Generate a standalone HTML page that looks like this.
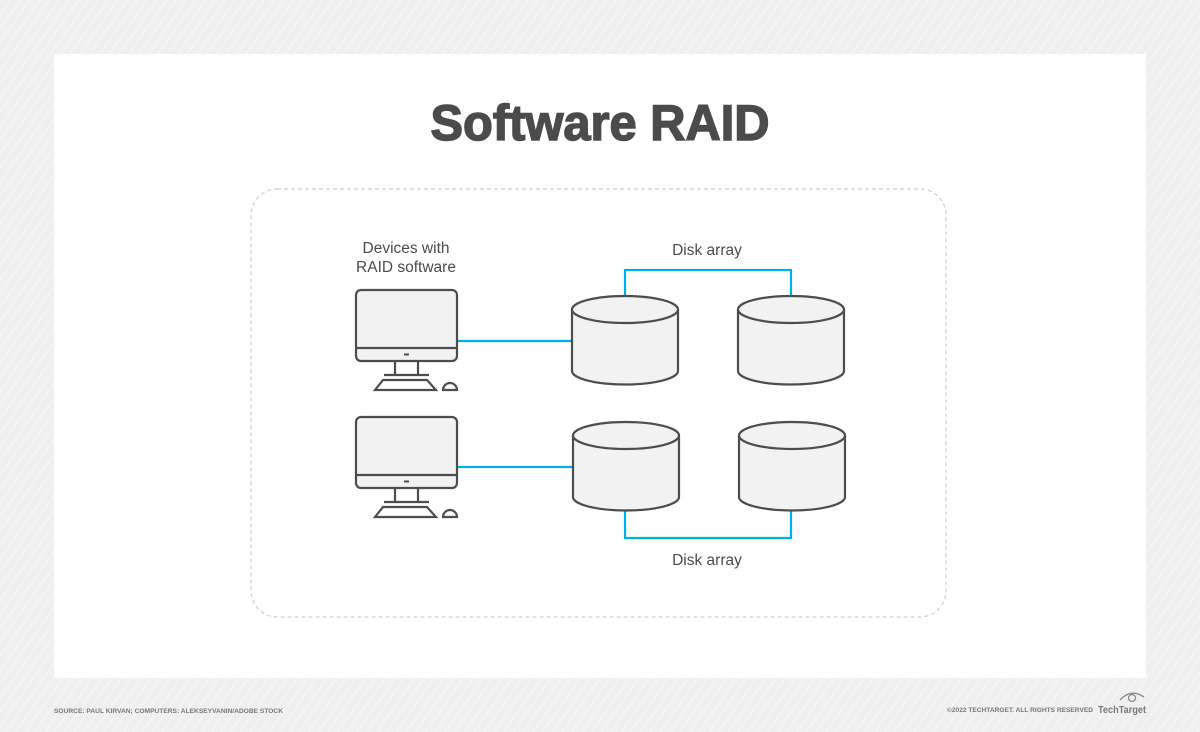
<!DOCTYPE html>
<html><head><meta charset="utf-8"><style>
html,body{margin:0;padding:0;width:1200px;height:732px;overflow:hidden;background:#f0f0f0}
</style></head><body>
<svg width="1200" height="732" viewBox="0 0 1200 732" xmlns="http://www.w3.org/2000/svg">
<defs>
<pattern id="st" width="8" height="8" patternUnits="userSpaceOnUse" patternTransform="rotate(35)">
<rect width="8" height="8" fill="#efefef"/><line x1="0" y1="0" x2="0" y2="8" stroke="#f7f7f7" stroke-width="2"/>
</pattern>
<g id="cyl">
<path d="M0,13 L0,75 A53,13.5 0 0 0 106,75 L106,13" fill="#f2f2f2" stroke="#4d4d4d" stroke-width="2.2"/>
<ellipse cx="53" cy="13.5" rx="53" ry="13.5" fill="#f2f2f2" stroke="#4d4d4d" stroke-width="2.2"/>
</g>
<g id="pc" fill="none" stroke="#4d4d4d" stroke-width="2.2">
<rect x="0" y="0" width="101" height="71" rx="5" fill="#f2f2f2"/>
<line x1="0" y1="58" x2="101" y2="58"/>
<line x1="48" y1="64.5" x2="53" y2="64.5" stroke-width="2"/>
<path d="M39,71 V85 M62,71 V85 M28,85 H73"/>
<path d="M27,90 H71 L80,100 H19 Z"/>
<path d="M87,100 A7,7 0 0 1 101,100 Z"/>
</g>
</defs>
<rect width="1200" height="732" fill="url(#st)"/>
<rect x="54" y="54" width="1092" height="624" fill="#fff"/>
<text x="600" y="140" text-anchor="middle" font-family="Liberation Sans, sans-serif" font-weight="bold" font-size="50" fill="#4b4b4d" stroke="#4b4b4d" stroke-width="1.5" textLength="339" lengthAdjust="spacingAndGlyphs">Software RAID</text>
<rect x="251" y="189" width="695" height="428" rx="26" fill="#fff" stroke="#cfcfcf" stroke-width="1.2" stroke-dasharray="4,3"/>
<g font-family="Liberation Sans, sans-serif" font-size="15.5" fill="#4b4b4d" text-anchor="middle">
<text x="406" y="253">Devices with</text>
<text x="406" y="272">RAID software</text>
<text x="707" y="255">Disk array</text>
<text x="707" y="565">Disk array</text>
</g>
<g fill="none" stroke="#00aee8" stroke-width="2.2">
<path d="M457,341 H572"/>
<path d="M625,296 V270 H791 V296"/>
<path d="M457,467 H573"/>
<path d="M625,510 V538 H791 V510"/>
</g>
<use href="#pc" x="356" y="290"/>
<use href="#pc" x="356" y="417"/>
<use href="#cyl" x="572" y="296"/>
<use href="#cyl" x="738" y="296"/>
<use href="#cyl" x="573" y="422"/>
<use href="#cyl" x="739" y="422"/>
<g font-family="Liberation Sans, sans-serif" font-weight="bold" font-size="6.5" fill="#777">
<text x="54" y="713" textLength="229" lengthAdjust="spacingAndGlyphs">SOURCE: PAUL KIRVAN; COMPUTERS: ALEKSEYVANIN/ADOBE STOCK</text>
<text x="947" y="712" textLength="146" lengthAdjust="spacingAndGlyphs">©2022 TECHTARGET. ALL RIGHTS RESERVED</text>
</g>
<text x="1098" y="713" font-family="Liberation Sans, sans-serif" font-weight="bold" font-size="10" fill="#777" textLength="48" lengthAdjust="spacingAndGlyphs">TechTarget</text>
<g fill="none" stroke="#888" stroke-width="1.3">
<path d="M1120,700 Q1131,688 1144,697"/>
<circle cx="1132" cy="698" r="3.5"/>
</g>
</svg>
</body></html>
